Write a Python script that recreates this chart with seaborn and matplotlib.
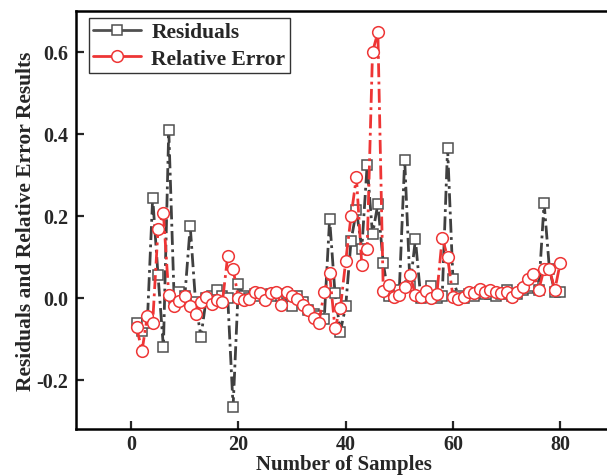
import numpy as np
import pandas as pd
import matplotlib
matplotlib.use("Agg")
import matplotlib.pyplot as plt
from matplotlib.lines import Line2D
import seaborn as sns

samples = list(range(1, 81))
residuals = [
    -0.06, -0.08, -0.06, 0.245, 0.055, -0.12, 0.41, 0.00, 0.015, 0.005,
    0.175, -0.01, -0.095, 0.0, 0.005, 0.02, 0.005, 0.0, -0.265, 0.035,
    0.005, 0.0, 0.01, 0.005, 0.0, 0.01, 0.005, 0.005, 0.01, -0.02,
    0.005, -0.01, -0.03, -0.04, -0.045, -0.05, 0.193, 0.012, -0.082, -0.02,
    0.14, 0.214, 0.12, 0.325, 0.155, 0.23, 0.085, 0.005, 0.005, 0.02,
    0.337, 0.03, 0.143, 0.0, 0.005, 0.03, 0.0, 0.005, 0.366, 0.046,
    0.005, 0.0, 0.01, 0.005, 0.015, 0.01, 0.01, 0.005, 0.01, 0.02,
    0.005, 0.01, 0.02, 0.025, 0.03, 0.02, 0.232, 0.07, 0.015, 0.015,
]
relative_error = [
    -0.07, -0.13, -0.045, -0.06, 0.168, 0.207, 0.007, -0.02, -0.008, 0.005,
    -0.02, -0.04, -0.01, 0.002, -0.015, -0.005, -0.01, 0.103, 0.07, 0.0,
    -0.005, -0.002, 0.014, 0.012, -0.005, 0.012, 0.015, -0.017, 0.014, 0.006,
    -0.002, -0.018, -0.03, -0.049, -0.06, 0.015, 0.06, -0.074, -0.025, 0.09,
    0.2, 0.295, 0.08, 0.12, 0.6, 0.648, 0.017, 0.032, 0.003, 0.007,
    0.027, 0.056, 0.008, 0.003, 0.017, 0.0, 0.01, 0.147, 0.1, 0.003,
    -0.002, 0.003, 0.015, 0.012, 0.022, 0.014, 0.02, 0.015, 0.013, 0.014,
    0.002, 0.015, 0.026, 0.046, 0.058, 0.02, 0.071, 0.07, 0.02, 0.085,
]
series_names = ["Residuals", "Relative Error"]
xticks = [0, 20, 40, 60, 80]
yticks = [-0.2, 0.0, 0.2, 0.4, 0.6]

df = pd.DataFrame({"sample": samples, "res": residuals, "rel": relative_error})

sns.set_style("ticks")
plt.rcParams["font.family"] = ["Liberation Serif", "DejaVu Serif"]
plt.rcParams["font.weight"] = "bold"

fig = plt.figure(figsize=(6.07, 4.77), dpi=100)
ax_w = 612 - 76
ax_h = 430 - 12
ax = fig.add_axes([76 / 607, 1 - 430 / 477, ax_w / 607, ax_h / 477])

gray = "#404040"
red = "#ee3535"
dash = (5, 1.6, 1, 1.6)

sns.lineplot(data=df, x="sample", y="res", ax=ax, color=gray, lw=2.0,
             marker="s", markersize=7.4, markerfacecolor="white",
             markeredgecolor="#505050", markeredgewidth=1.1, dashes=False,
             zorder=2)
sns.lineplot(data=df, x="sample", y="rel", ax=ax, color=red, lw=2.0,
             marker="o", markersize=8.4, markerfacecolor="white",
             markeredgecolor=red, markeredgewidth=1.1, dashes=False,
             zorder=3)
for ln in ax.lines:
    ln.set_dashes(dash)

ax.set_xlim(-10.3, (612 - 131.4) / 5.36)
ax.set_ylim(-(430 - 299) / 410, (299 - 12) / 410)
ax.set_xticks(xticks)
ax.set_yticks(yticks)
ax.set_xticklabels([str(t) for t in xticks])
ax.set_yticklabels([f"{t:.1f}" for t in yticks])
ax.tick_params(direction="in", length=6, width=1.6, labelsize=14.5)
ax.tick_params(axis="y", pad=5.5)
ax.tick_params(axis="x", pad=3.5)
for lab in ax.get_xticklabels() + ax.get_yticklabels():
    lab.set_fontweight("bold")
for s in ["left", "bottom", "top", "right"]:
    ax.spines[s].set_linewidth(1.8)
    ax.spines[s].set_color("black")

ax.set_xlabel("Number of Samples", fontsize=15, fontweight="bold", labelpad=0)
ax.set_ylabel("Residuals and Relative Error Results", fontsize=15.5,
              fontweight="bold", labelpad=0)

handles = [
    Line2D([], [], color="#505050", lw=2.0, marker="s", markersize=7.4,
           markerfacecolor="white", markeredgecolor="#505050", markeredgewidth=1.1),
    Line2D([], [], color=red, lw=2.0, marker="o", markersize=8.4,
           markerfacecolor="white", markeredgecolor=red, markeredgewidth=1.1),
]
leg = ax.legend(handles, series_names, loc="upper left",
                bbox_to_anchor=(13 / ax_w, 1 - 7 / ax_h), borderaxespad=0,
                frameon=True, fancybox=False,
                edgecolor="#333333", framealpha=1, borderpad=0.2,
                handlelength=2.2, handletextpad=0.5, labelspacing=0.3,
                prop={"family": "Liberation Serif", "weight": "bold", "size": 15.5})
leg.get_frame().set_linewidth(1.0)

fig.savefig("out.png", dpi=100)
